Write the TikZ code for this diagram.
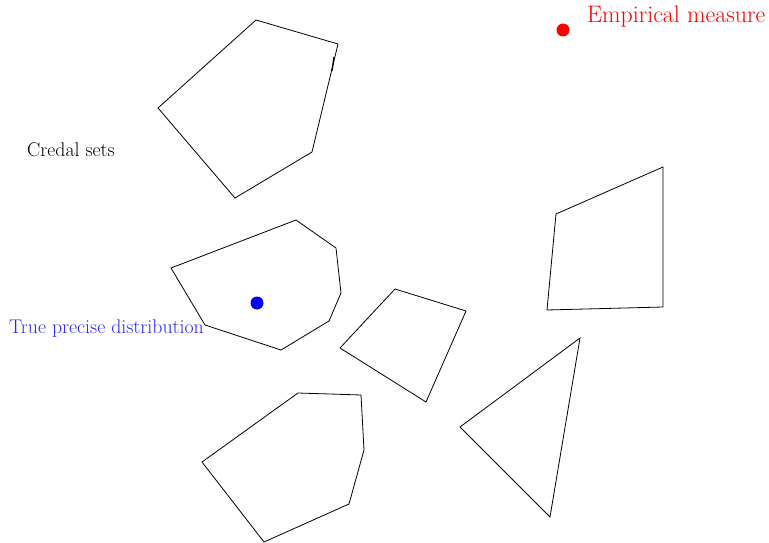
\documentclass[tikz,border=0pt]{standalone}
\begin{document}
\begin{tikzpicture}[x=1pt,y=-1pt,
  credal/.style={draw=black,line width=0.8pt,line join=miter},
  lbl/.style={inner sep=0pt,font=\fontsize{19.8}{22}\selectfont}]
\useasboundingbox (0,0) rectangle (769,543);
% top polygon
\draw[credal] (256,20) coordinate (a1) -- (338,44) coordinate (a2) -- (312,152) coordinate (a3) -- (235,198) coordinate (a4) -- (158,108) coordinate (a5) -- cycle;
\draw[line width=1.3pt] (334,57) coordinate (t1) -- (332,71) coordinate (t2);
% middle-left polygon
\draw[credal] (171,268) coordinate (b1) -- (296,220) coordinate (b2) -- (336,248) coordinate (b3) -- (341,293) coordinate (b4) -- (329,321) coordinate (b5) -- (281,350) coordinate (b6) -- (205,325) coordinate (b7) -- cycle;
% small middle quadrilateral
\draw[credal] (395,289) coordinate (c1) -- (466,311) coordinate (c2) -- (426,402) coordinate (c3) -- (340,348) coordinate (c4) -- cycle;
% right quadrilateral
\draw[credal] (556,214) coordinate (d1) -- (663,167) coordinate (d2) -- (663,307) coordinate (d3) -- (547,310) coordinate (d4) -- cycle;
% triangle
\draw[credal] (580,338) coordinate (e1) -- (550,517) coordinate (e2) -- (460,427) coordinate (e3) -- cycle;
% bottom polygon
\draw[credal] (298,393) coordinate (f1) -- (361,395) coordinate (f2) -- (364,450) coordinate (f3) -- (349,504) coordinate (f4) -- (264,542) coordinate (f5) -- (202,462) coordinate (f6) -- cycle;
% dots
\fill[blue] (257,303) circle[radius=6.5];
\fill[red] (563,30) circle[radius=6.5];
% labels
\node[lbl,anchor=center] (credal) at (71,150) {Credal sets};
\node[lbl,anchor=center,text=blue!85!white] (true) at (106.5,329) {True precise distribution};
\node[lbl,anchor=west,text=red,font=\fontsize{23.9}{26}\selectfont] (emp) at (587,17) {Empirical measure};
\end{tikzpicture}
\end{document}
